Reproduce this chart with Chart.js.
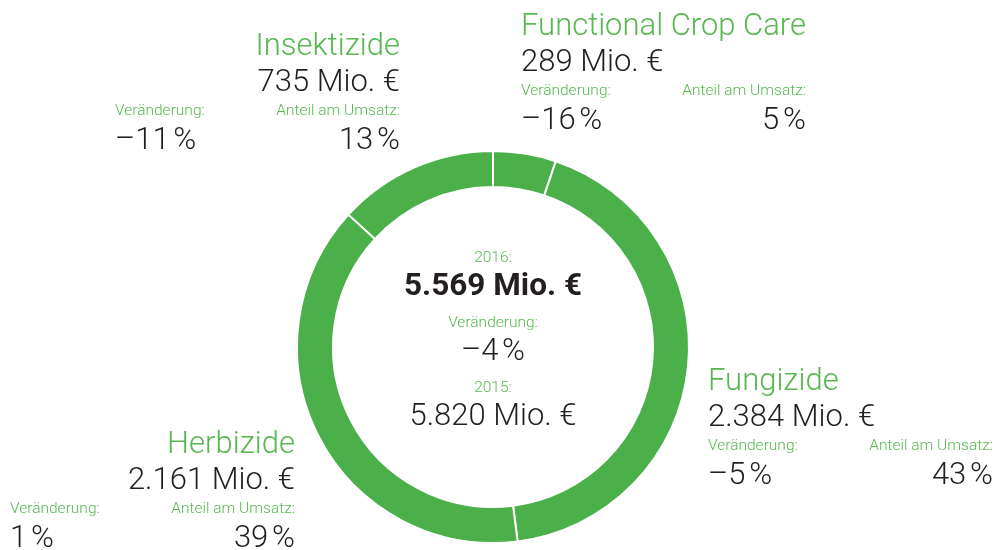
<!DOCTYPE html>
<html lang="de">
<head>
<meta charset="utf-8">
<title>Umsatz Crop Science 2016</title>
<script src="https://cdn.jsdelivr.net/npm/chart.js@4.4.1/dist/chart.umd.min.js"></script>
<style>
  html, body { margin: 0; padding: 0; background: #fff; }
  #umsatz-donut { display: block; }
</style>
</head>
<body>
<canvas id="umsatz-donut" width="998" height="550"></canvas>
<script>
// Segmente im Uhrzeigersinn ab 12 Uhr
const sparten = ["Functional Crop Care", "Fungizide", "Herbizide", "Insektizide"];
const umsatz_2016 = [289, 2384, 2161, 735];      // Mio. €
const veraenderung = [-16, -5, 1, -11];          // %
const anteil = [5, 43, 39, 13];                  // %

const gesamt_2016 = 5569;
const gesamt_2015 = 5820;
const gesamt_veraenderung = -4;

const green = "#4bb04a";
const text_green = "#56b84f";
const dark = "#231f20";
const font_family = "Roboto, 'Liberation Sans', sans-serif";
const big = 31;
const small = 15.5;

// Textblöcke neben dem Ring: linke Kante, Grundlinie der Überschrift, Ausrichtung
const block_pos = [
  { x: 521, y: 35, align: "left" },
  { x: 708, y: 390, align: "left" },
  { x: 10, y: 453, align: "right" },
  { x: 115, y: 55, align: "right" }
];
const block_width = 285;

function mio(n) {
  return String(n).replace(/\B(?=(\d{3})+(?!\d))/g, ".") + " Mio. €";
}
function prozent(n) {
  return (n < 0 ? "\u2013" + Math.abs(n) : String(n)) + "\u202F%";
}

function txt(ctx, s, x, y, size, color, align, weight) {
  ctx.font = (weight || 300) + " " + size + "px " + font_family;
  ctx.fillStyle = color;
  ctx.textAlign = align;
  ctx.textBaseline = "alphabetic";
  ctx.fillText(s, x, y);
}

const labelPlugin = {
  id: "spartenLabels",
  afterDraw(chart) {
    const ctx = chart.ctx;
    ctx.save();
    sparten.forEach((name, i) => {
      const p = block_pos[i];
      const left = p.x, right = p.x + block_width;
      const hx = p.align === "left" ? left : right;
      txt(ctx, name, hx, p.y, big, text_green, p.align);
      txt(ctx, mio(umsatz_2016[i]), hx, p.y + 36, big, dark, p.align);
      txt(ctx, "Veränderung:", left, p.y + 60, small, text_green, "left");
      txt(ctx, "Anteil am Umsatz:", right, p.y + 60, small, text_green, "right");
      txt(ctx, prozent(veraenderung[i]), left, p.y + 94, big, dark, "left");
      txt(ctx, prozent(anteil[i]), right, p.y + 94, big, dark, "right");
    });

    // Mitte des Rings
    const cx = chart.getDatasetMeta(0).data[0].x;
    txt(ctx, "2016:", cx, 262, small, text_green, "center");
    txt(ctx, mio(gesamt_2016), cx, 295, 31.5, dark, "center", 700);
    txt(ctx, "Veränderung:", cx, 327, small, text_green, "center");
    txt(ctx, prozent(gesamt_veraenderung), cx, 360, big, dark, "center");
    txt(ctx, "2015:", cx, 392, small, text_green, "center");
    txt(ctx, mio(gesamt_2015), cx, 425, big, dark, "center");
    ctx.restore();
  }
};

const ctx = document.getElementById("umsatz-donut").getContext("2d");
new Chart(ctx, {
  type: "doughnut",
  data: {
    labels: sparten,
    datasets: [{
      data: umsatz_2016,
      backgroundColor: green,
      borderColor: "#ffffff",
      borderWidth: 2
    }]
  },
  options: {
    responsive: false,
    animation: false,
    cutout: 160,
    layout: {
      padding: { left: 296, right: 308, top: 150, bottom: 6 }
    },
    plugins: {
      legend: { display: false },
      tooltip: { enabled: false }
    }
  },
  plugins: [labelPlugin]
});
</script>
</body>
</html>
